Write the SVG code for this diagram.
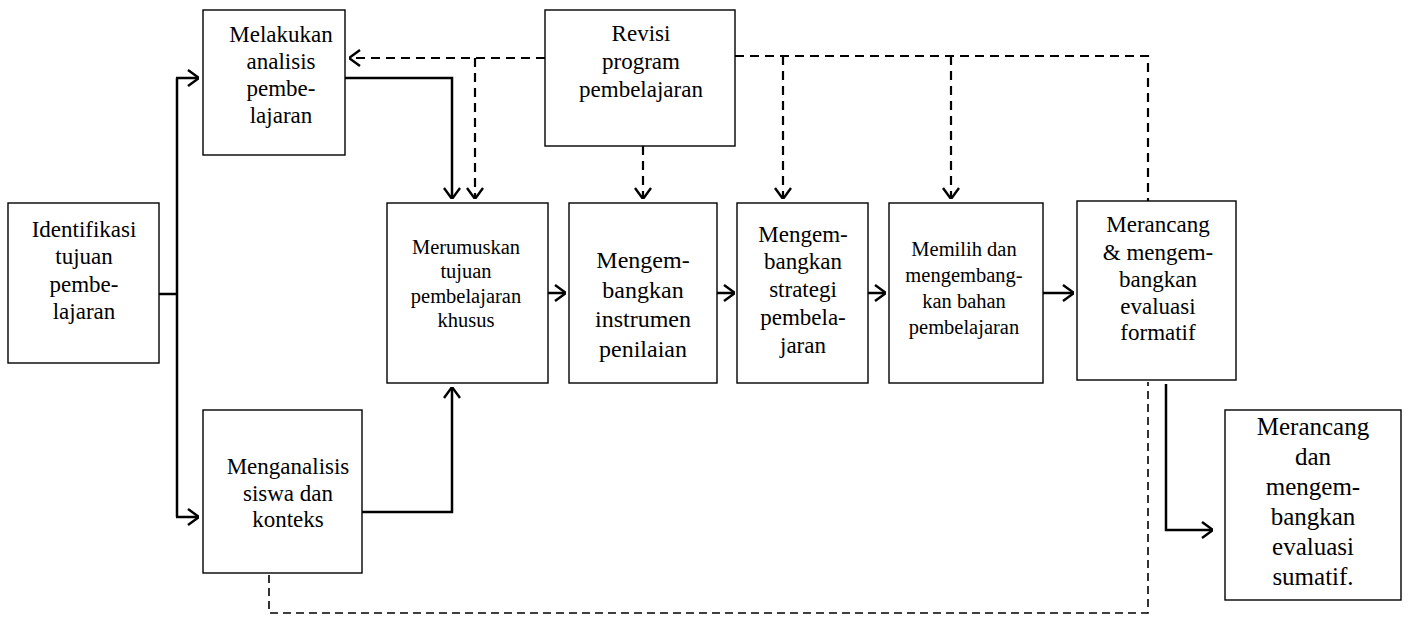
<svg xmlns="http://www.w3.org/2000/svg" width="1408" height="617" viewBox="0 0 1408 617">
  <style>
    .box { fill: #fff; stroke: #000; stroke-width: 1.4; }
    .t { font-family: "Liberation Serif", "Times New Roman", serif; fill: #000; text-anchor: middle; }
    .solid { fill: none; stroke: #000; stroke-width: 2.5; }
    .dash { fill: none; stroke: #000; stroke-width: 2.2; stroke-dasharray: 9 6; }
    .dash-thin { fill: none; stroke: #000; stroke-width: 1.6; stroke-dasharray: 8 5; }
  </style>
  <defs>
    <marker id="open" viewBox="0 0 12 18" refX="12" refY="9" markerWidth="12" markerHeight="18" markerUnits="userSpaceOnUse" orient="auto">
      <path d="M1,1 L12,9 L1,17" fill="none" stroke="#000" stroke-width="2.4"/>
    </marker>
  </defs>
  <rect width="1408" height="617" fill="#fff"/>

  <!-- connectors -->
  <g id="connectors">
    <!-- solid flow -->
    <path class="solid" d="M159,294 H177"/>
    <path class="solid" d="M177,78 V517"/>
    <path class="solid" d="M176,78 H199" marker-end="url(#open)"/>
    <path class="solid" d="M176,517 H199" marker-end="url(#open)"/>
    <path class="solid" d="M345,78 H452 V199" marker-end="url(#open)"/>
    <path class="solid" d="M362,512 H452 V387" marker-end="url(#open)"/>
    <path class="solid" d="M548,293 H566" marker-end="url(#open)"/>
    <path class="solid" d="M717,293 H735" marker-end="url(#open)"/>
    <path class="solid" d="M868,293 H886" marker-end="url(#open)"/>
    <path class="solid" d="M1043,293 H1074" marker-end="url(#open)"/>
    <path class="solid" d="M1166,384 V530 H1213" marker-end="url(#open)"/>
    <!-- revision feedback -->
    <path class="dash" d="M545,58 H349" marker-end="url(#open)"/>
    <path class="dash" d="M475,58 V199" marker-end="url(#open)"/>
    <path class="dash" d="M643,146 V199" marker-end="url(#open)"/>
    <path class="dash" d="M735,56 H1148 V201"/>
    <path class="dash" d="M783,56 V199" marker-end="url(#open)"/>
    <path class="dash" d="M951,56 V199" marker-end="url(#open)"/>
    <path class="dash-thin" d="M269,575 V613 H1148 V382"/>
  </g>

  <g id="identifikasi">
    <rect class="box" x="8" y="203" width="151" height="160"/>
    <text class="t" font-size="23" x="84" y="237">Identifikasi</text>
    <text class="t" font-size="23" x="84" y="264">tujuan</text>
    <text class="t" font-size="23" x="84" y="292">pembe-</text>
    <text class="t" font-size="23" x="84" y="319">lajaran</text>
  </g>

  <g id="melakukan">
    <rect class="box" x="203" y="10" width="142" height="145"/>
    <text class="t" font-size="23" x="281" y="42">Melakukan</text>
    <text class="t" font-size="23" x="281" y="69">analisis</text>
    <text class="t" font-size="23" x="281" y="96">pembe-</text>
    <text class="t" font-size="23" x="281" y="123">lajaran</text>
  </g>

  <g id="revisi">
    <rect class="box" x="545" y="10" width="190" height="136"/>
    <text class="t" font-size="23" x="641" y="41">Revisi</text>
    <text class="t" font-size="23" x="641" y="69">program</text>
    <text class="t" font-size="23" x="641" y="97">pembelajaran</text>
  </g>

  <g id="merumuskan">
    <rect class="box" x="387" y="203" width="161" height="180"/>
    <text class="t" font-size="20.5" x="466" y="254">Merumuskan</text>
    <text class="t" font-size="20.5" x="466" y="278">tujuan</text>
    <text class="t" font-size="20.5" x="466" y="303">pembelajaran</text>
    <text class="t" font-size="20.5" x="466" y="327">khusus</text>
  </g>

  <g id="instrumen">
    <rect class="box" x="569" y="203" width="148" height="180"/>
    <text class="t" font-size="24" x="643" y="268">Mengem-</text>
    <text class="t" font-size="24" x="643" y="298">bangkan</text>
    <text class="t" font-size="24" x="643" y="327">instrumen</text>
    <text class="t" font-size="24" x="643" y="357">penilaian</text>
  </g>

  <g id="strategi">
    <rect class="box" x="737" y="203" width="131" height="180"/>
    <text class="t" font-size="23" x="803" y="242">Mengem-</text>
    <text class="t" font-size="23" x="803" y="269">bangkan</text>
    <text class="t" font-size="23" x="803" y="297">strategi</text>
    <text class="t" font-size="23" x="803" y="325">pembela-</text>
    <text class="t" font-size="23" x="803" y="353">jaran</text>
  </g>

  <g id="bahan">
    <rect class="box" x="889" y="203" width="154" height="180"/>
    <text class="t" font-size="20.5" x="964" y="256">Memilih dan</text>
    <text class="t" font-size="20.5" x="964" y="282">mengembang-</text>
    <text class="t" font-size="20.5" x="964" y="308">kan bahan</text>
    <text class="t" font-size="20.5" x="964" y="334">pembelajaran</text>
  </g>

  <g id="formatif">
    <rect class="box" x="1077" y="201" width="159" height="179"/>
    <text class="t" font-size="23" x="1158" y="232">Merancang</text>
    <text class="t" font-size="23" x="1158" y="260">&amp; mengem-</text>
    <text class="t" font-size="23" x="1158" y="287">bangkan</text>
    <text class="t" font-size="23" x="1158" y="314">evaluasi</text>
    <text class="t" font-size="23" x="1158" y="340">formatif</text>
  </g>

  <g id="sumatif">
    <rect class="box" x="1225" y="410" width="176" height="190"/>
    <text class="t" font-size="25" x="1313" y="435">Merancang</text>
    <text class="t" font-size="25" x="1313" y="465">dan</text>
    <text class="t" font-size="25" x="1313" y="495">mengem-</text>
    <text class="t" font-size="25" x="1313" y="525">bangkan</text>
    <text class="t" font-size="25" x="1313" y="555">evaluasi</text>
    <text class="t" font-size="25" x="1313" y="585">sumatif.</text>
  </g>

  <g id="menganalisis">
    <rect class="box" x="203" y="410" width="159" height="163"/>
    <text class="t" font-size="23" x="288" y="474">Menganalisis</text>
    <text class="t" font-size="23" x="288" y="501">siswa dan</text>
    <text class="t" font-size="23" x="288" y="527">konteks</text>
  </g>
</svg>
